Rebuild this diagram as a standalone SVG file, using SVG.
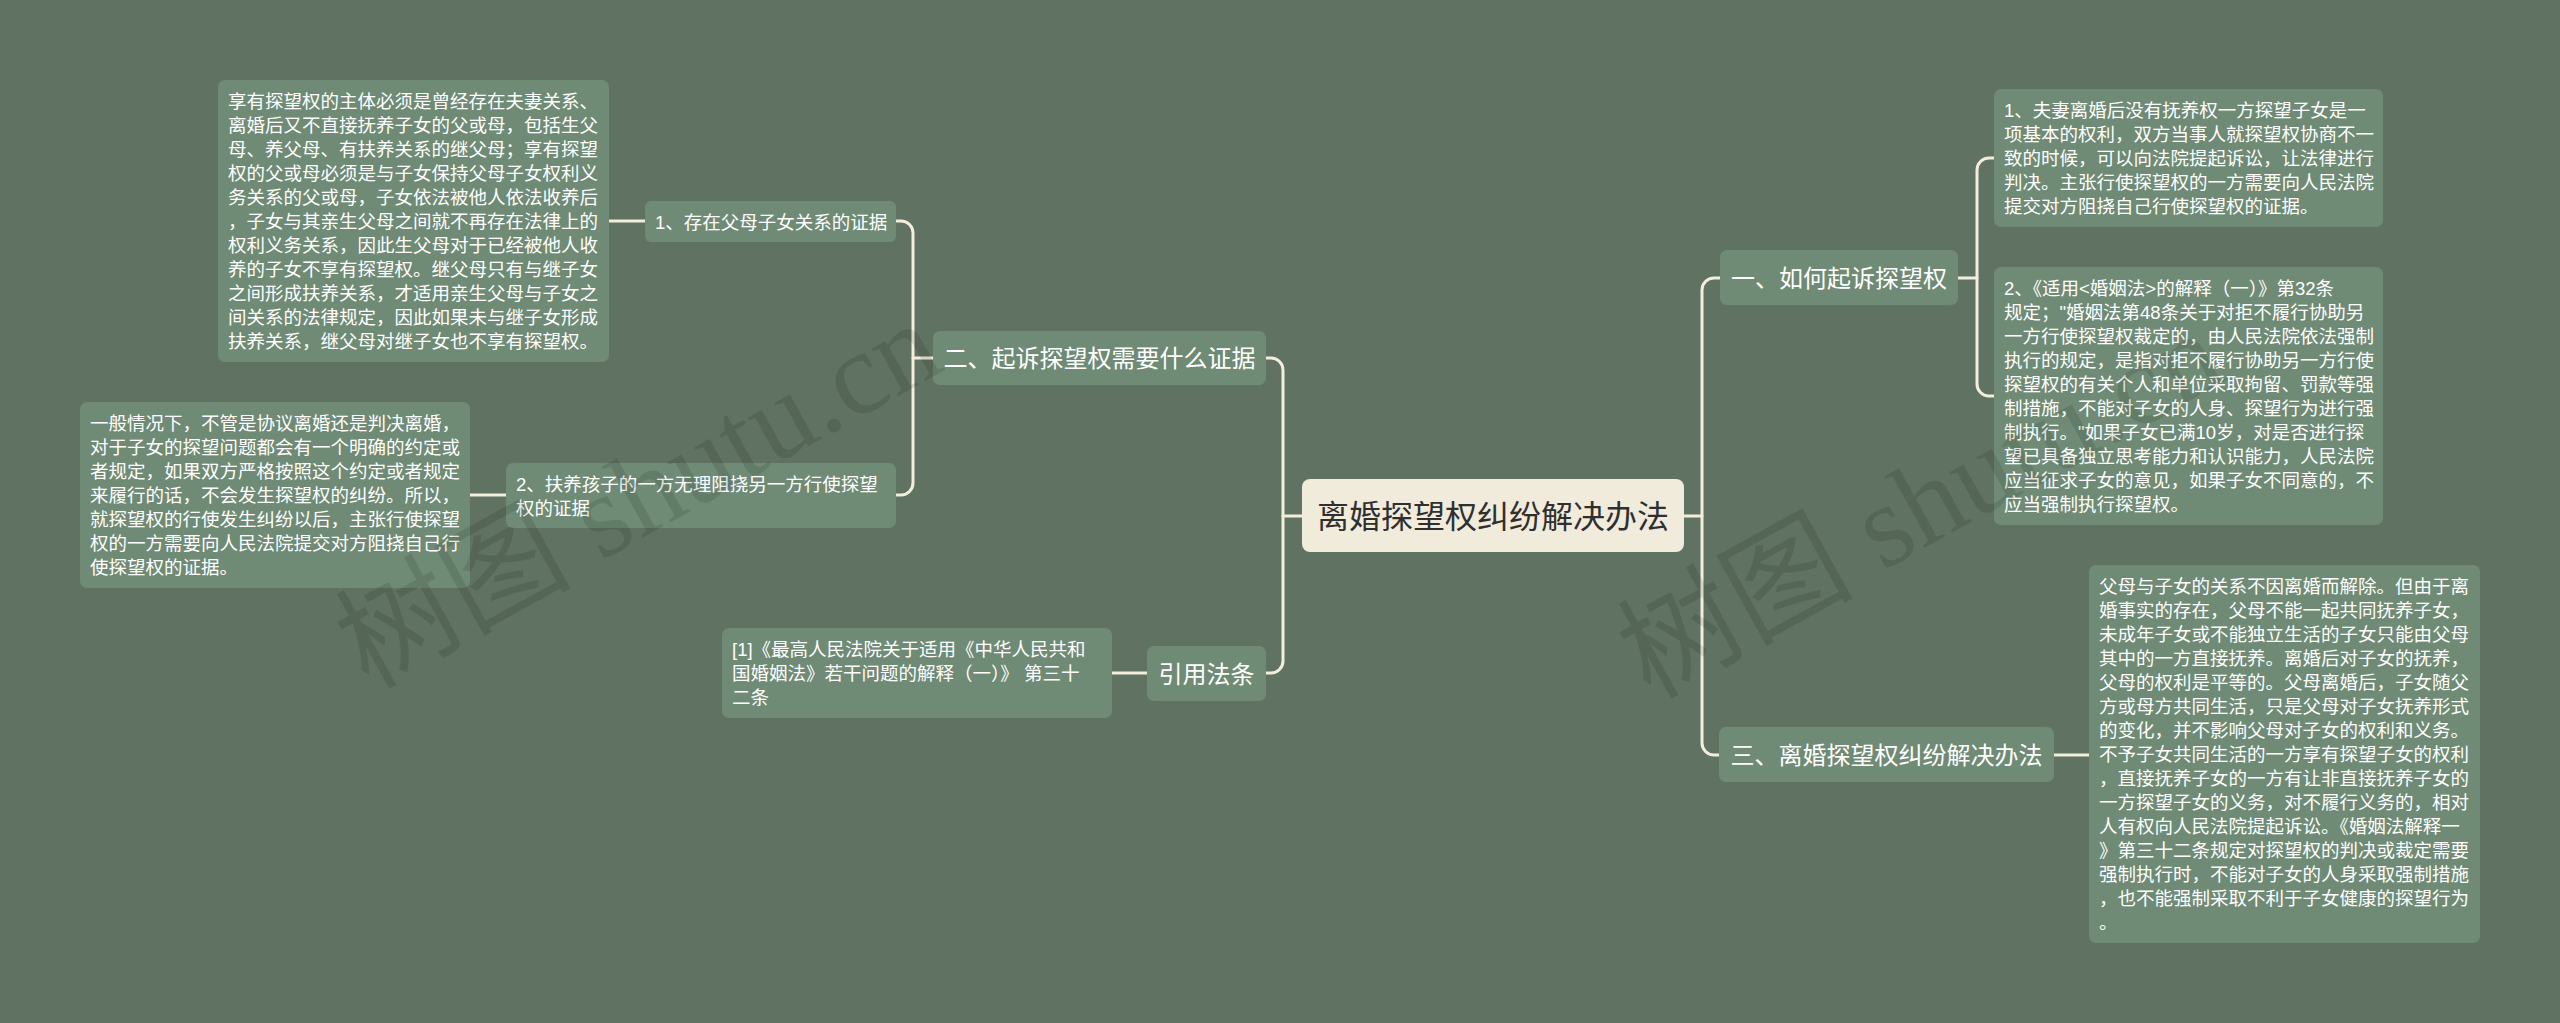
<svg xmlns="http://www.w3.org/2000/svg" width="2560" height="1023" viewBox="0 0 2560 1023">
<defs>
<style>
.bg{fill:#607362}
.node{fill:#6f8b75}
.root{fill:#f0ebda}
.t{font-family:'Liberation Sans','Noto Sans CJK SC',sans-serif;fill:#ffffff}
.leaf{font-size:18.5px}
.br{font-size:24px;text-anchor:middle}
.rt{font-size:32px;text-anchor:middle;fill:#2f2f2f}
.wire{fill:none;stroke:#f3eedb;stroke-width:3;stroke-linecap:round}
.wm{font-family:'Liberation Serif','Noto Sans CJK SC',serif;font-size:118px;fill:#000;opacity:0.1}
</style>
</defs>
<rect class="bg" x="0" y="0" width="2560" height="1023"/>

<g id="connectors">
<path class="wire" d="M1302,516 H1283"/>
<path class="wire" d="M1266,358 h5 a12,12 0 0 1 12,12 V661 a12,12 0 0 1 -12,12 h-5"/>
<path class="wire" d="M933,358 H913"/>
<path class="wire" d="M896,221 h5 a12,12 0 0 1 12,12 V483 a12,12 0 0 1 -12,12 h-5"/>
<path class="wire" d="M609,221 H645"/>
<path class="wire" d="M470,495 H506"/>
<path class="wire" d="M1112,673 H1147"/>
<path class="wire" d="M1684,516 H1702"/>
<path class="wire" d="M1720,278 h-6 a12,12 0 0 0 -12,12 V743 a12,12 0 0 0 12,12 h5"/>
<path class="wire" d="M1958,278 H1977"/>
<path class="wire" d="M1994,158 h-5 a12,12 0 0 0 -12,12 V384 a12,12 0 0 0 12,12 h5"/>
<path class="wire" d="M2054,755 H2089"/>
</g>

<g id="root">
<rect class="root" x="1302" y="479" width="382" height="73" rx="8"/>
<text class="t rt" x="1493" y="527.5">离婚探望权纠纷解决办法</text>
</g>

<g id="b2">
<rect class="node" x="933" y="331" width="333" height="54" rx="7"/>
<text class="t br" x="1099.5" y="367">二、起诉探望权需要什么证据</text>
</g>

<g id="b4">
<rect class="node" x="1147" y="646" width="119" height="55" rx="7"/>
<text class="t br" x="1206.5" y="682.5">引用法条</text>
</g>

<g id="b1">
<rect class="node" x="1720" y="250" width="238" height="55" rx="7"/>
<text class="t br" x="1839" y="286.5">一、如何起诉探望权</text>
</g>

<g id="b3">
<rect class="node" x="1719" y="727" width="335" height="55" rx="7"/>
<text class="t br" x="1886.5" y="763.5">三、离婚探望权纠纷解决办法</text>
</g>

<g id="leaf1">
<rect class="node" x="645" y="201" width="251" height="41" rx="6"/>
<text class="t leaf" x="655" y="228.5">1、存在父母子女关系的证据</text>
</g>

<g id="leaf1a">
<rect class="node" x="218" y="80" width="391" height="282" rx="7"/>
<text class="t leaf" x="228" y="108">
<tspan x="228" dy="0">享有探望权的主体必须是曾经存在夫妻关系、</tspan>
<tspan x="228" dy="24">离婚后又不直接抚养子女的父或母，包括生父</tspan>
<tspan x="228" dy="24">母、养父母、有扶养关系的继父母；享有探望</tspan>
<tspan x="228" dy="24">权的父或母必须是与子女保持父母子女权利义</tspan>
<tspan x="228" dy="24">务关系的父或母，子女依法被他人依法收养后</tspan>
<tspan x="228" dy="24">，子女与其亲生父母之间就不再存在法律上的</tspan>
<tspan x="228" dy="24">权利义务关系，因此生父母对于已经被他人收</tspan>
<tspan x="228" dy="24">养的子女不享有探望权。继父母只有与继子女</tspan>
<tspan x="228" dy="24">之间形成扶养关系，才适用亲生父母与子女之</tspan>
<tspan x="228" dy="24">间关系的法律规定，因此如果未与继子女形成</tspan>
<tspan x="228" dy="24">扶养关系，继父母对继子女也不享有探望权。</tspan>
</text>
</g>

<g id="leaf2">
<rect class="node" x="506" y="463" width="390" height="65" rx="7"/>
<text class="t leaf" x="516" y="490.5">
<tspan x="516" dy="0">2、扶养孩子的一方无理阻挠另一方行使探望</tspan>
<tspan x="516" dy="24">权的证据</tspan>
</text>
</g>

<g id="leaf2a">
<rect class="node" x="80" y="402" width="390" height="186" rx="7"/>
<text class="t leaf" x="90" y="430">
<tspan x="90" dy="0">一般情况下，不管是协议离婚还是判决离婚，</tspan>
<tspan x="90" dy="24">对于子女的探望问题都会有一个明确的约定或</tspan>
<tspan x="90" dy="24">者规定，如果双方严格按照这个约定或者规定</tspan>
<tspan x="90" dy="24">来履行的话，不会发生探望权的纠纷。所以，</tspan>
<tspan x="90" dy="24">就探望权的行使发生纠纷以后，主张行使探望</tspan>
<tspan x="90" dy="24">权的一方需要向人民法院提交对方阻挠自己行</tspan>
<tspan x="90" dy="24">使探望权的证据。</tspan>
</text>
</g>

<g id="ref">
<rect class="node" x="722" y="628" width="390" height="90" rx="7"/>
<text class="t leaf" x="732" y="656">
<tspan x="732" dy="0">[1]《最高人民法院关于适用《中华人民共和</tspan>
<tspan x="732" dy="24">国婚姻法》若干问题的解释（一）》 第三十</tspan>
<tspan x="732" dy="24">二条</tspan>
</text>
</g>

<g id="r1">
<rect class="node" x="1994" y="89" width="389" height="138" rx="7"/>
<text class="t leaf" x="2004" y="117">
<tspan x="2004" dy="0">1、夫妻离婚后没有抚养权一方探望子女是一</tspan>
<tspan x="2004" dy="24">项基本的权利，双方当事人就探望权协商不一</tspan>
<tspan x="2004" dy="24">致的时候，可以向法院提起诉讼，让法律进行</tspan>
<tspan x="2004" dy="24">判决。主张行使探望权的一方需要向人民法院</tspan>
<tspan x="2004" dy="24">提交对方阻挠自己行使探望权的证据。</tspan>
</text>
</g>

<g id="r2">
<rect class="node" x="1994" y="267" width="389" height="258" rx="7"/>
<text class="t leaf" x="2004" y="295">
<tspan x="2004" dy="0">2、《适用&lt;婚姻法&gt;的解释（一）》第32条</tspan>
<tspan x="2004" dy="24">规定；"婚姻法第48条关于对拒不履行协助另</tspan>
<tspan x="2004" dy="24">一方行使探望权裁定的，由人民法院依法强制</tspan>
<tspan x="2004" dy="24">执行的规定，是指对拒不履行协助另一方行使</tspan>
<tspan x="2004" dy="24">探望权的有关个人和单位采取拘留、罚款等强</tspan>
<tspan x="2004" dy="24">制措施，不能对子女的人身、探望行为进行强</tspan>
<tspan x="2004" dy="24">制执行。"如果子女已满10岁，对是否进行探</tspan>
<tspan x="2004" dy="24">望已具备独立思考能力和认识能力，人民法院</tspan>
<tspan x="2004" dy="24">应当征求子女的意见，如果子女不同意的，不</tspan>
<tspan x="2004" dy="24">应当强制执行探望权。</tspan>
</text>
</g>

<g id="r3">
<rect class="node" x="2089" y="565" width="391" height="378" rx="7"/>
<text class="t leaf" x="2099" y="593">
<tspan x="2099" dy="0">父母与子女的关系不因离婚而解除。但由于离</tspan>
<tspan x="2099" dy="24">婚事实的存在，父母不能一起共同抚养子女，</tspan>
<tspan x="2099" dy="24">未成年子女或不能独立生活的子女只能由父母</tspan>
<tspan x="2099" dy="24">其中的一方直接抚养。离婚后对子女的抚养，</tspan>
<tspan x="2099" dy="24">父母的权利是平等的。父母离婚后，子女随父</tspan>
<tspan x="2099" dy="24">方或母方共同生活，只是父母对子女抚养形式</tspan>
<tspan x="2099" dy="24">的变化，并不影响父母对子女的权利和义务。</tspan>
<tspan x="2099" dy="24">不予子女共同生活的一方享有探望子女的权利</tspan>
<tspan x="2099" dy="24">，直接抚养子女的一方有让非直接抚养子女的</tspan>
<tspan x="2099" dy="24">一方探望子女的义务，对不履行义务的，相对</tspan>
<tspan x="2099" dy="24">人有权向人民法院提起诉讼。《婚姻法解释一</tspan>
<tspan x="2099" dy="24">》第三十二条规定对探望权的判决或裁定需要</tspan>
<tspan x="2099" dy="24">强制执行时，不能对子女的人身采取强制措施</tspan>
<tspan x="2099" dy="24">，也不能强制采取不利于子女健康的探望行为</tspan>
<tspan x="2099" dy="24">。</tspan>
</text>
</g>

<g id="watermarks">
<text class="wm" transform="translate(368,690) rotate(-29)">树图 shutu.cn</text>
<text class="wm" transform="translate(1650,700) rotate(-29)">树图 shutu.cn</text>
</g>
</svg>
